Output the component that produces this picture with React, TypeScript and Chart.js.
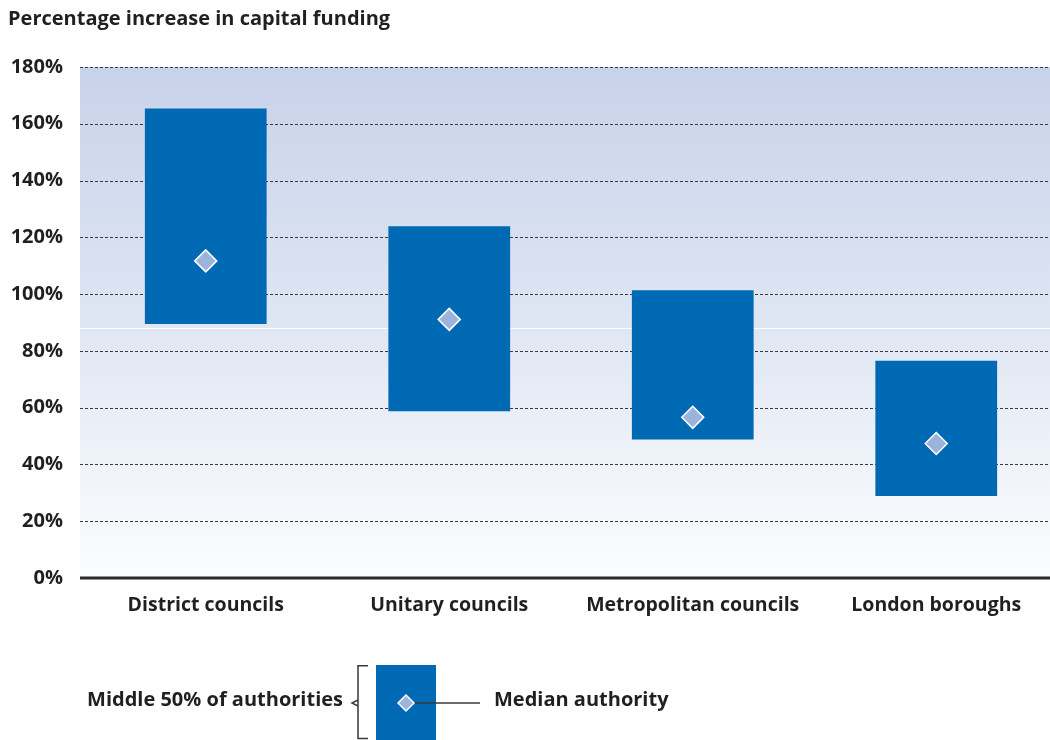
import React, { useEffect, useRef } from "react";
import { Chart, registerables } from "chart.js";

Chart.register(...registerables);

// Council types and the spread of percentage increases in capital funding
const categories = ["District councils", "Unitary councils", "Metropolitan councils", "London boroughs"];
const lowerQuartile = [89.5, 58.7, 48.8, 28.9];
const upperQuartile = [165.4, 123.9, 101.4, 76.5];
const medianValues = [111.7, 91.1, 56.6, 47.4];

const yMin = 0;
const yMax = 180;
const yStep = 20;

const titleText = "Percentage increase in capital funding";
const legendBandText = "Middle 50% of authorities";
const legendMedianText = "Median authority";

const FONT = "'Open Sans', 'Noto Sans', sans-serif";
const TEXT = "#231f20";
const BAR = "#0069b4";
const MEDIAN_FILL = "#9cb4dc";

const backdropPlugin = {
  id: "backdrop",
  beforeDatasetsDraw(chart: any) {
    const { ctx, chartArea, scales } = chart;
    const y = scales.y;
    const left = chartArea.left - 4;
    const right = chartArea.right;
    const top = y.getPixelForValue(yMax);
    const bottom = y.getPixelForValue(yMin);
    ctx.save();
    const g = ctx.createLinearGradient(0, top, 0, bottom);
    g.addColorStop(0, "#c7d3ea");
    g.addColorStop(0.5, "#dfe6f3");
    g.addColorStop(1, "#fcfdfe");
    ctx.fillStyle = g;
    ctx.fillRect(left, top, right - left, bottom - top);
    // faint band seam in the shading
    const seam = Math.round(y.getPixelForValue(88.2)) + 0.5;
    ctx.strokeStyle = "rgba(255,255,255,0.9)";
    ctx.lineWidth = 1;
    ctx.beginPath();
    ctx.moveTo(left, seam);
    ctx.lineTo(right, seam);
    ctx.stroke();
    // dotted gridlines
    ctx.strokeStyle = "#3a3a3a";
    ctx.setLineDash([3, 2]);
    for (let v = yMin + yStep; v <= yMax; v += yStep) {
      const py = Math.round(y.getPixelForValue(v)) + 0.5;
      ctx.beginPath();
      ctx.moveTo(left, py);
      ctx.lineTo(right, py);
      ctx.stroke();
    }
    ctx.setLineDash([]);
    ctx.restore();
  },
  afterDatasetsDraw(chart: any) {
    const { ctx, chartArea, scales } = chart;
    const y = scales.y;
    const py = y.getPixelForValue(yMin);
    ctx.save();
    ctx.strokeStyle = "#2b2b2b";
    ctx.lineWidth = 3;
    ctx.beginPath();
    ctx.moveTo(chartArea.left - 4, py);
    ctx.lineTo(chartArea.right, py);
    ctx.stroke();
    ctx.restore();
  },
  afterDraw(chart: any) {
    const { ctx } = chart;
    ctx.save();
    ctx.fillStyle = TEXT;
    ctx.textBaseline = "middle";
    ctx.font = `bold 20px ${FONT}`;
    ctx.textAlign = "left";
    ctx.fillText(titleText, 8, 19);

    // legend key
    const boxL = 376, boxR = 436, boxT = 665, boxB = 740;
    const midY = 703;
    ctx.fillStyle = BAR;
    ctx.fillRect(boxL, boxT, boxR - boxL, boxB - boxT);
    // bracket
    ctx.strokeStyle = "#3a3a3a";
    ctx.lineWidth = 1.5;
    ctx.beginPath();
    ctx.moveTo(368, boxT + 0.75);
    ctx.lineTo(358, boxT + 0.75);
    ctx.lineTo(358, boxB - 1.5);
    ctx.lineTo(368, boxB - 1.5);
    ctx.moveTo(358, midY - 3);
    ctx.lineTo(352, midY);
    ctx.lineTo(358, midY + 3);
    ctx.stroke();
    // leader line
    ctx.beginPath();
    ctx.moveTo(406, midY);
    ctx.lineTo(480, midY);
    ctx.stroke();
    // diamond
    const r = 8;
    ctx.beginPath();
    ctx.moveTo(406 - r, midY);
    ctx.lineTo(406, midY - r);
    ctx.lineTo(406 + r, midY);
    ctx.lineTo(406, midY + r);
    ctx.closePath();
    ctx.fillStyle = MEDIAN_FILL;
    ctx.fill();
    ctx.strokeStyle = "#ffffff";
    ctx.lineWidth = 1.5;
    ctx.stroke();

    ctx.fillStyle = TEXT;
    ctx.font = `bold 20px ${FONT}`;
    ctx.textAlign = "right";
    ctx.fillText(legendBandText, 343, 700);
    ctx.textAlign = "left";
    ctx.fillText(legendMedianText, 494, 700);
    ctx.restore();
  },
};

export default function App() {
  const ref = useRef<HTMLCanvasElement | null>(null);

  useEffect(() => {
    if (!ref.current) return;
    const chart = new Chart(ref.current, {
      type: "bar",
      data: {
        labels: categories,
        datasets: [
          {
            type: "bar",
            label: "Middle 50% of authorities",
            data: categories.map((_, i) => [lowerQuartile[i], upperQuartile[i]]) as any,
            backgroundColor: BAR,
            borderWidth: 0,
            categoryPercentage: 1,
            barPercentage: 0.5,
            order: 2,
          },
          {
            type: "line",
            label: "Median authority",
            data: medianValues,
            showLine: false,
            pointStyle: "rectRot",
            pointRadius: 11,
            pointBackgroundColor: MEDIAN_FILL,
            pointBorderColor: "#ffffff",
            pointBorderWidth: 1.5,
            order: 1,
          },
        ],
      },
      options: {
        responsive: false,
        animation: false,
        layout: { autoPadding: false, padding: { top: 67, right: 2, left: 0, bottom: 0 } },
        plugins: {
          legend: { display: false },
          title: { display: false },
          tooltip: { enabled: false },
        },
        scales: {
          x: {
            type: "category",
            offset: true,
            grid: { display: false, drawTicks: false },
            border: { display: false },
            ticks: {
              color: TEXT,
              font: { family: FONT, size: 19.5, weight: "bold" },
              padding: 16,
              maxRotation: 0,
              autoSkip: false,
            },
            afterFit(scale: any) {
              scale.height = 162;
              scale.paddingLeft = 0;
              scale.paddingRight = 0;
            },
          },
          y: {
            min: yMin,
            max: yMax,
            grid: { display: false, drawTicks: false },
            border: { display: false },
            ticks: {
              stepSize: yStep,
              color: TEXT,
              font: { family: FONT, size: 20, weight: "bold" },
              padding: 21,
              callback: (v: any) => `${v}%`,
            },
            afterFit(scale: any) {
              scale.width = 84;
            },
          },
        },
      },
      plugins: [backdropPlugin],
    });
    return () => chart.destroy();
  }, []);

  // the plot area runs a few pixels past the visible right edge
  return (
    <div style={{ position: "fixed", left: 0, top: 0, width: 1050, height: 740, overflow: "hidden", background: "#ffffff" }}>
      <div style={{ width: 1060, height: 740 }}>
        <canvas ref={ref} width={1060} height={740} style={{ display: "block", width: 1060, height: 740 }} />
      </div>
    </div>
  );
}
